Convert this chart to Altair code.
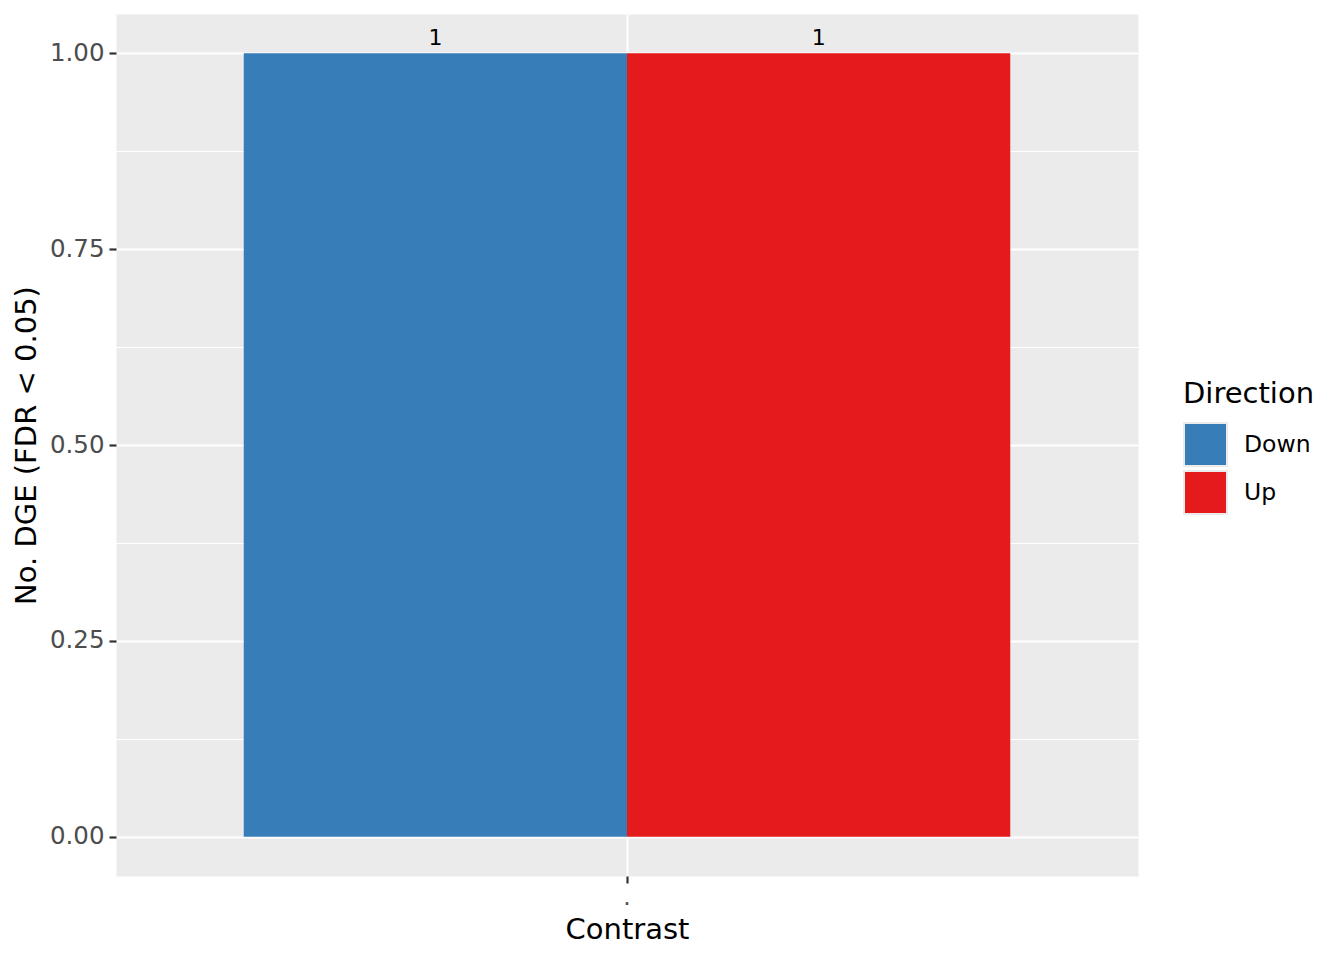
import altair as alt
import pandas as pd

contrasts = [".", "."]
directions = ["Down", "Up"]
counts = [1, 1]
colors = ["#377EB8", "#E41A1C"]
y_ticks = [0, 0.125, 0.25, 0.375, 0.5, 0.625, 0.75, 0.875, 1.0]

df = pd.DataFrame({"Contrast": contrasts, "Direction": directions, "n": counts})

FONT = "DejaVu Sans"
major = "datum.value % 0.25 === 0"

x_enc = alt.X(
    "Contrast:N",
    scale=alt.Scale(paddingInner=0, paddingOuter=1 / 6),
    axis=alt.Axis(
        title="Contrast",
        titleFontSize=29,
        titleFontWeight="normal",
        titleColor="black",
        titlePadding=7,
        labelAngle=0,
        labelFontSize=23.5,
        labelColor="#4D4D4D",
        labelPadding=2,
        domain=False,
        ticks=True,
        tickSize=7,
        tickWidth=2.2,
        tickColor="#333333",
        grid=True,
        gridColor="white",
        gridWidth=2,
        bandPosition=0.5,
    ),
)
xoff = alt.XOffset("Direction:N", scale=alt.Scale(paddingInner=0, paddingOuter=0))
y_enc = alt.Y(
    "n:Q",
    scale=alt.Scale(domain=[-0.05, 1.05], nice=False, zero=False),
    axis=alt.Axis(
        title="No. DGE (FDR < 0.05)",
        titleFontSize=29,
        titleFontWeight="normal",
        titleColor="black",
        titlePadding=8,
        values=y_ticks,
        labelExpr=f"{major} ? format(datum.value, '.2f') : ''",
        labelFontSize=24.5,
        labelColor="#4D4D4D",
        labelPadding=5,
        domain=False,
        tickSize=7,
        tickWidth=2.2,
        tickColor="#333333",
        tickOpacity={"condition": {"test": major, "value": 1}, "value": 0},
        grid=True,
        gridColor="white",
        gridWidth={"condition": {"test": major, "value": 2}, "value": 1},
    ),
)

base = alt.Chart(df)

bars = base.mark_bar().encode(
    x=x_enc,
    xOffset=xoff,
    y=y_enc,
    y2=alt.datum(0),
    color=alt.Color(
        "Direction:N",
        scale=alt.Scale(domain=directions, range=colors),
        legend=alt.Legend(
            title="Direction",
            orient="none",
            legendX=1067,
            legendY=366,
            titleFontSize=29,
            titleFontWeight="normal",
            titleColor="black",
            titlePadding=13,
            labelFontSize=23.5,
            labelColor="black",
            labelOffset=16,
            symbolType="square",
            symbolSize=1849,
            symbolStrokeColor="#EBEBEB",
            symbolStrokeWidth=2,
            symbolOpacity=1,
            rowPadding=-9,
        ),
    ),
)

labels = base.mark_text(baseline="alphabetic", dy=-8, fontSize=22, color="black", font=FONT).encode(
    x=alt.X("Contrast:N"),
    xOffset=xoff,
    y=alt.Y("n:Q"),
    text=alt.Text("n:Q"),
)

chart = (
    alt.layer(bars, labels)
    .properties(
        width=1022,
        height=862,
        autosize=alt.AutoSizeParams(type="none"),
        padding={"left": 108, "top": 6, "right": 190, "bottom": 76},
    )
    .configure(font=FONT)
    .configure_view(fill="#EBEBEB", stroke="transparent")
    .configure_scale(bandPaddingInner=0)
)

chart.save("out.html", embed_options={"renderer": "svg", "actions": False})
